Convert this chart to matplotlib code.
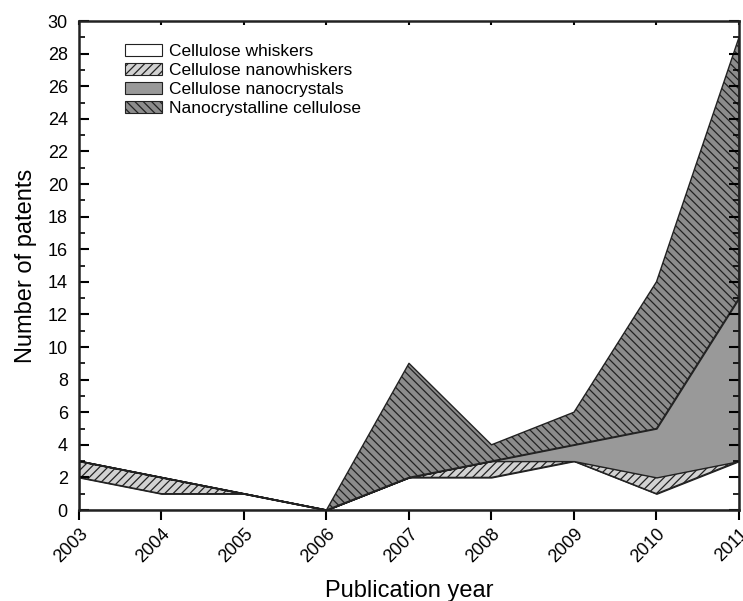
import numpy as np
import matplotlib.pyplot as plt
from matplotlib.patches import Patch
from matplotlib.ticker import MultipleLocator

plt.rcParams['font.family'] = ['Liberation Sans', 'DejaVu Sans']
plt.rcParams['hatch.linewidth'] = 0.9

years = [2003, 2004, 2005, 2006, 2007, 2008, 2009, 2010, 2011]
whiskers = [2, 1, 1, 0, 2, 2, 3, 1, 3]
nanowhiskers = [1, 1, 0, 0, 0, 1, 0, 1, 0]
nanocrystals = [0, 0, 0, 0, 0, 0, 1, 3, 10]
nanocrystalline = [0, 0, 0, 0, 7, 1, 2, 9, 16]

labels = ["Cellulose whiskers", "Cellulose nanowhiskers",
          "Cellulose nanocrystals", "Nanocrystalline cellulose"]
colors = ["white", "#d2d2d2", "#999999", "#8c8c8c"]
hatches = [None, "////", None, "\\\\\\\\"]

fig = plt.figure(figsize=(7.43, 6.01), dpi=100)
ax = fig.add_axes([0.1063, 0.1514, 0.8883, 0.8136])

series = np.array([whiskers, nanowhiskers, nanocrystals, nanocrystalline])
tops = np.cumsum(series, axis=0)
bottom = np.zeros(len(years))
for top, c, h in zip(tops, colors, hatches):
    ax.fill_between(years, bottom, top, facecolor=c, hatch=h,
                    edgecolor="#222222", linewidth=1.0)
    bottom = top

ax.set_xlim(2003, 2011)
ax.set_ylim(0, 30)
ax.set_xticks(years)
ax.set_xticklabels([str(y) for y in years], rotation=45, ha="right",
                   rotation_mode="anchor", fontsize=13)
ax.yaxis.set_major_locator(MultipleLocator(2))
ax.yaxis.set_minor_locator(MultipleLocator(1))
ax.tick_params(axis="y", which="major", direction="in", length=7, width=1.5,
               labelsize=13, right=True, pad=8)
ax.tick_params(axis="y", which="minor", direction="in", length=4, width=1.2,
               right=True)
ax.tick_params(axis="x", which="major", direction="out", length=7, width=1.5,
               pad=4, top=True)
# small inward ticks on the top spine
for t in ax.xaxis.get_major_ticks():
    t.tick2line.set_marker(3)
    t.tick2line.set_markersize(3)
for s in ax.spines.values():
    s.set_linewidth(1.8)
    s.set_color("#222222")

ax.set_xlabel("Publication year", fontsize=17, labelpad=10)
ax.set_ylabel("Number of patents", fontsize=17, labelpad=8)

handles = [Patch(facecolor=c, hatch=h, edgecolor="#222222", linewidth=0.8)
           for c, h in zip(colors, hatches)]
ax.legend(handles, labels, loc="upper left", bbox_to_anchor=(0.07, 0.953),
          frameon=False, fontsize=12.5, handlelength=2.1, handleheight=0.7,
          labelspacing=0.22, handletextpad=0.4, borderpad=0, borderaxespad=0)

fig.savefig("out.png", dpi=100)
